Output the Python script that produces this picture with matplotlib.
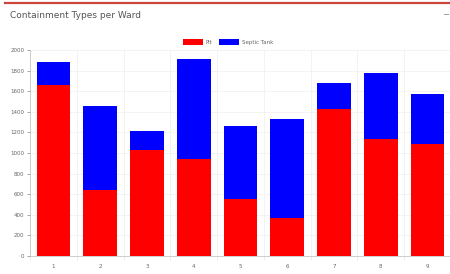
import numpy as np
from matplotlib import pyplot as plt
from matplotlib.lines import Line2D

# data
wards = ['1', '2', '3', '4', '5', '6', '7', '8', '9']
pit = [1660, 640, 1030, 940, 555, 370, 1430, 1135, 1090]
septic_tank = [220, 815, 185, 970, 705, 960, 250, 640, 480]
y_ticks = [0, 200, 400, 600, 800, 1000, 1200, 1400, 1600, 1800, 2000]

fig = plt.figure(figsize=(4.5, 2.74), dpi=100)
fig.patch.set_facecolor('white')

# card header
fig.add_artist(Line2D([5 / 450, 1.0], [1 - 3 / 274, 1 - 3 / 274], color='#c9463d', lw=1.6))
fig.text(10 / 450, 1 - 15 / 274, 'Containment Types per Ward', fontsize=6.5, color='#555555', va='center')
fig.text(449 / 450, 1 - 15 / 274, '\u2212', fontsize=6, color='#888888', va='center', ha='right')

ax = fig.add_axes([30 / 450, 1 - 256 / 274, 421 / 450, 206 / 274])
x = np.arange(len(wards))
ax.bar(x, pit, width=0.72, color='#ff0000', label='Pit')
ax.bar(x, septic_tank, width=0.72, bottom=pit, color='#0000ff', label='Septic Tank')

ax.set_xlim(-0.5, len(wards) - 0.5)
ax.set_ylim(0, 2000)
ax.set_yticks(y_ticks)
ax.set_xticks(x)
ax.set_xticklabels(wards)
ax.set_xticks(np.arange(-0.5, len(wards), 1), minor=True)
ax.tick_params(axis='both', labelsize=4, colors='#666666', length=2, width=0.4, pad=2)
ax.tick_params(axis='x', which='major', length=0, pad=6)
ax.tick_params(axis='x', which='minor', length=3, width=0.4, color='#dddddd')
ax.grid(axis='y', color='#eeeeee', lw=0.5)
ax.grid(axis='x', which='minor', color='#eeeeee', lw=0.5)
ax.set_axisbelow(True)
for side in ['top', 'right']:
    ax.spines[side].set_visible(False)
ax.spines['left'].set_color('#bbbbbb')
ax.spines['bottom'].set_color('#bbbbbb')
ax.spines['left'].set_linewidth(0.5)
ax.spines['bottom'].set_linewidth(0.5)

ax.legend(loc='lower center', bbox_to_anchor=(0.47, 1.0), ncol=2, frameon=False, fontsize=4,
          handlelength=3.6, handleheight=1.1, columnspacing=1.2, handletextpad=0.5,
          labelcolor='#666666')

fig.savefig('out.png', dpi=100)
